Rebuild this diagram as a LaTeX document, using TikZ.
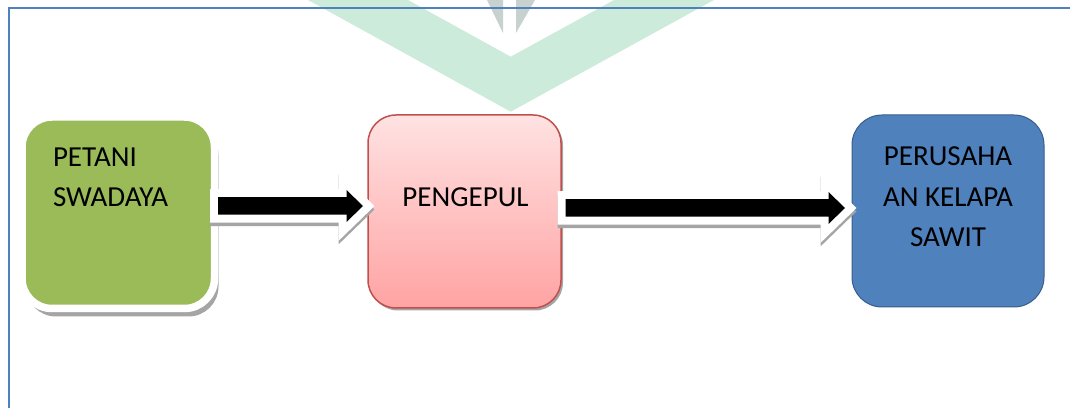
\documentclass[tikz,border=0pt]{standalone}
\usepackage{fontspec}
\setmainfont{Carlito}
\usetikzlibrary{calc,shadows}
\definecolor{frameblue}{HTML}{4F81BD}
\definecolor{wmgreen}{HTML}{CCEBDB}
\definecolor{wmgray}{HTML}{C7D1CD}
\definecolor{boxgreen}{HTML}{9BBB59}
\definecolor{pinktop}{HTML}{FFE2E2}
\definecolor{pinkbot}{HTML}{FFA3A3}
\definecolor{pinkline}{HTML}{C0504D}
\definecolor{boxblue}{HTML}{4F81BD}
\definecolor{blueline}{HTML}{385D8A}
\definecolor{shadowgray}{HTML}{A5A5A5}
% #1 start, #2 tip, #3 style, #4 vertical offset
\newcommand\blockarrow[4]{%
  \filldraw[#3] ($(#1)+(0,-8.75+#4)$) -- ($(#2)+(-16.5,-8.75+#4)$) -- ($(#2)+(-16.5,-16+#4)$)
    -- ($(#2)+(0,#4)$) -- ($(#2)+(-16.5,16+#4)$) -- ($(#2)+(-16.5,8.75+#4)$)
    -- ($(#1)+(0,8.75+#4)$) -- cycle;}
\begin{document}
\begin{tikzpicture}[x=1pt,y=-1pt,
  lbl/.style={font=\fontsize{29}{40.5}\selectfont, inner sep=0pt, outer sep=0pt, text=black},
  box/.style={outer sep=0pt, inner sep=0pt},
  arrowbody/.style={fill=black, draw=none},
  arrowoutline/.style={fill=white, draw=white, line width=16pt, line join=miter},
  arrowshadow/.style={fill=shadowgray, draw=shadowgray, line width=16pt, line join=miter}]
\useasboundingbox (0,0) rectangle (1070,419);
% watermark
\fill[wmgreen] (308,0) -- (510.7,111.7) -- (714,0) -- (614,0) -- (510.7,56.7) -- (408,0) -- cycle;
\fill[wmgray] (487,0) -- (503,0) -- (503,33) -- cycle;
\fill[wmgray] (516,0) -- (535,0) -- (516,33) -- cycle;
% frame
\draw[frameblue, line width=2pt] (8.5,408) -- (8.5,8.5) -- (1075,8.5);
% boxes
\node[box, draw=white, line width=7.5pt, fill=boxgreen, rounded corners=30pt,
  minimum width=192.5pt, minimum height=191.5pt,
  drop shadow={shadow xshift=4pt, shadow yshift=-8pt, fill=shadowgray, opacity=1}]
  (petani) at (118.25,212.75) {};
\node[box, draw=pinkline, line width=1.5pt, top color=pinktop, bottom color=pinkbot,
  rounded corners=28pt, minimum width=193pt, minimum height=193pt,
  drop shadow={shadow xshift=2pt, shadow yshift=-2.5pt, fill=shadowgray, opacity=1}]
  (pengepul) at (464.5,211.5) {};
\node[box, draw=blueline, line width=1pt, fill=boxblue, rounded corners=30pt,
  minimum width=192pt, minimum height=192pt] (perusahaan) at (948,211) {};
% arrows
\coordinate (a1t) at ($(pengepul.west)+(-5,-5.5)$);
\coordinate (a1s) at ($(petani.east |- a1t)+(3.5,0)$);
\coordinate (a2s) at ($(pengepul.east)+(4.7,-3.5)$);
\coordinate (a2t) at ($(perusahaan.west |- a2s)+(-7,0)$);
\blockarrow{a1s}{a1t}{arrowshadow}{3.5}
\blockarrow{a1s}{a1t}{arrowoutline}{0}
\blockarrow{a1s}{a1t}{arrowbody}{0}
\blockarrow{a2s}{a2t}{arrowshadow}{3.5}
\blockarrow{a2s}{a2t}{arrowoutline}{0}
\blockarrow{a2s}{a2t}{arrowbody}{0}
% labels (base anchor = baseline of last line)
\node[lbl, anchor=base west, align=left] (petanitxt) at (53,207) {PETANI\\SWADAYA};
\node[lbl, anchor=base] (pengepultxt) at (465.5,207) {PENGEPUL};
\node[lbl, anchor=base, align=center] (perusahaantxt) at (948,247) {PERUSAHA\\AN KELAPA\\SAWIT};
\end{tikzpicture}
\end{document}
